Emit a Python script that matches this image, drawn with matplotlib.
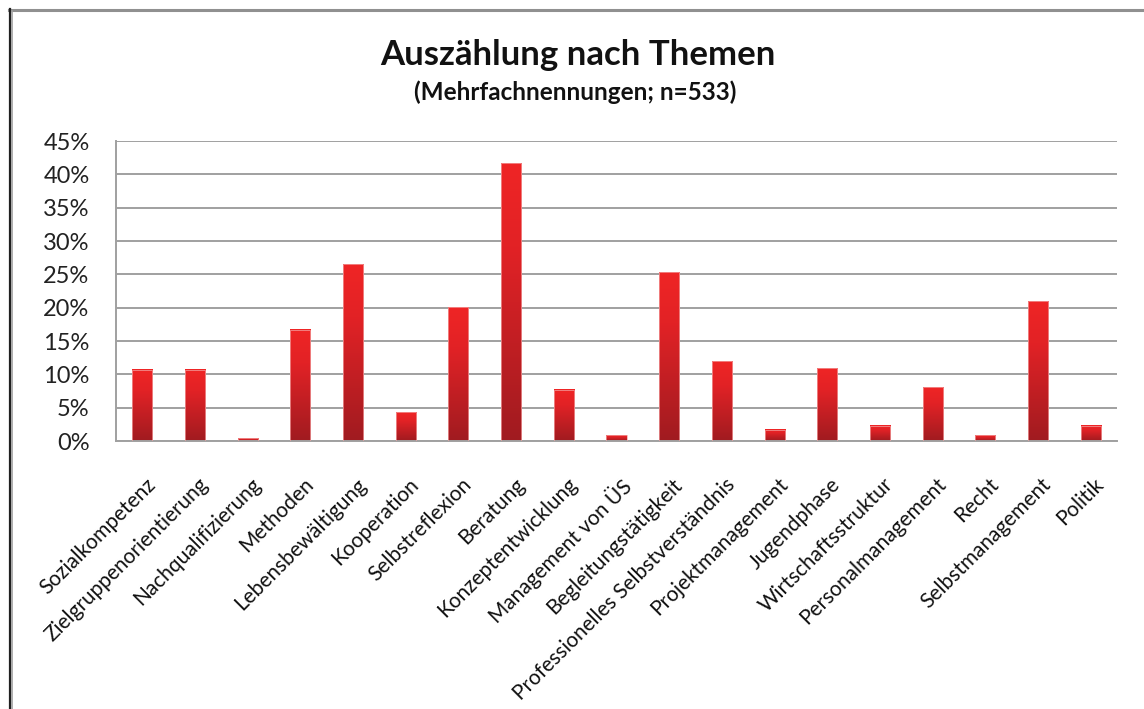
import numpy as np
import matplotlib
matplotlib.use("Agg")
import matplotlib.pyplot as plt
from matplotlib.colors import LinearSegmentedColormap
from matplotlib.lines import Line2D
import matplotlib.transforms as mtransforms

plt.rcParams['font.family'] = ['Lato', 'DejaVu Sans']

# Themen und Anteile (in %)
themen = ['Sozialkompetenz', 'Zielgruppenorientierung', 'Nachqualifizierung',
          'Methoden', 'Lebensbewältigung', 'Kooperation', 'Selbstreflexion',
          'Beratung', 'Konzeptentwicklung', 'Management von ÜS',
          'Begleitungstätigkeit', 'Professionelles Selbstverständnis',
          'Projektmanagement', 'Jugendphase', 'Wirtschaftsstruktur',
          'Personalmanagement', 'Recht', 'Selbstmanagement', 'Politik']
anteile = [10.7, 10.7, 0.4, 16.7, 26.5, 4.3, 20.1, 41.7, 7.7, 0.9,
           25.3, 12.0, 1.7, 10.9, 2.3, 8.1, 0.9, 21.0, 2.3]
yticks = [0, 5, 10, 15, 20, 25, 30, 35, 40, 45]

fig = plt.figure(figsize=(11.44, 7.09), dpi=100)
ax = fig.add_axes([116 / 1144, 1 - 441 / 709, (1117 - 116) / 1144, 300 / 709])

x = np.arange(len(themen))
bars = ax.bar(x, anteile, width=0.38, color='none', edgecolor='#f3a3a3',
              linewidth=0.5, zorder=3)

# Farbverlauf von oben hellrot nach unten dunkelrot
cmap = LinearSegmentedColormap.from_list('rot', [(0, '#a01b20'), (0.7, '#e22226'), (1, '#ef2525')])
grad = np.linspace(0, 1, 256).reshape(-1, 1)
for b in bars:
    bx, by = b.get_x(), b.get_y()
    ax.imshow(grad, cmap=cmap, origin='lower', aspect='auto', zorder=2,
              extent=(bx, bx + b.get_width(), by, by + b.get_height()))

ax.set_xlim(-0.5, len(themen) - 0.5)
ax.set_ylim(0, 45)
ax.set_yticks(yticks)
ax.set_yticklabels([f'{t}%' for t in yticks], fontsize=17, color='#222222')
ax.yaxis.grid(True, color='#a0a0a0', linewidth=1.4, zorder=0)
ax.set_axisbelow(True)
for s in ['top', 'right']:
    ax.spines[s].set_visible(False)
for s in ['left', 'bottom']:
    ax.spines[s].set_color('#a0a0a0')
    ax.spines[s].set_linewidth(1.4)
ax.tick_params(axis='y', length=0, pad=19)
ax.tick_params(axis='x', length=0, pad=24)

ax.set_xticks(x)
ax.set_xticklabels(themen, rotation=45, ha='right', va='top',
                   rotation_mode='anchor', fontsize=15, color='#111111')
offset = mtransforms.ScaledTranslation(3 / 100, 0, fig.dpi_scale_trans)
for lbl in ax.get_xticklabels():
    lbl.set_transform(lbl.get_transform() + offset)

fig.text(578 / 1144, 1 - 55 / 709, 'Auszählung nach Themen', ha='center', va='center',
         fontsize=25, fontweight='bold', color='#111111')
fig.text(575 / 1144, 1 - 92 / 709, '(Mehrfachnennungen; n=533)', ha='center', va='center',
         fontsize=17.5, fontweight='bold', color='#111111')

# Rahmen oben und links
fig.add_artist(Line2D([9 / 1144, 1], [1 - 10 / 709, 1 - 10 / 709], color='#909090', linewidth=2.2))
fig.add_artist(Line2D([10 / 1144, 10 / 1144], [0, 1 - 9 / 709], color='#202020', linewidth=1.6))
fig.add_artist(Line2D([11.8 / 1144, 11.8 / 1144], [0, 1 - 11 / 709], color='#a0a0a0', linewidth=1.2))

fig.savefig('out.png', dpi=100)
